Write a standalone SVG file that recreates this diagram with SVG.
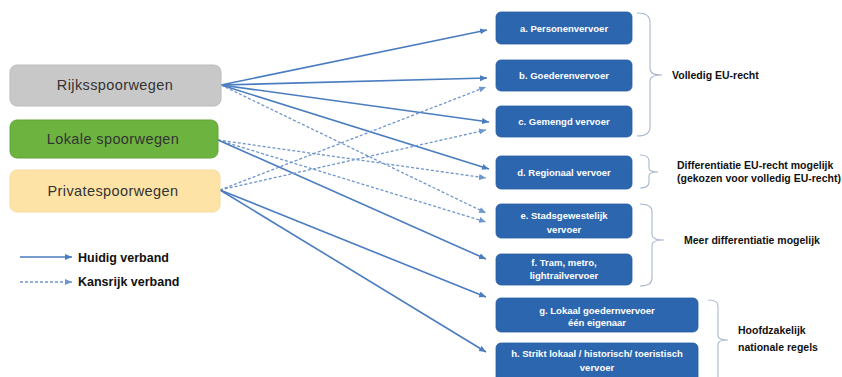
<svg xmlns="http://www.w3.org/2000/svg" width="842" height="377" viewBox="0 0 842 377">
<style>
.src{font-family:"Liberation Sans",Arial,sans-serif;font-size:14.5px;fill:#333;text-anchor:middle;letter-spacing:0.4px}
.box{fill:#2c66ae;stroke:#2a5d9f;stroke-width:0.8}
.bt{font-family:"Liberation Sans",Arial,sans-serif;font-size:9.5px;font-weight:bold;fill:#fff;text-anchor:middle}
.lbl{font-family:"Liberation Sans",Arial,sans-serif;font-size:10.5px;font-weight:bold;fill:#111}
.leg{font-family:"Liberation Sans",Arial,sans-serif;font-size:12.5px;font-weight:bold;fill:#111}
.br{fill:none;stroke:#a9b7cc;stroke-width:1.1}
.sol{fill:none;stroke:#4a7cc0;stroke-width:1.6;marker-end:url(#ah)}
.dsh{fill:none;stroke:#6f96cc;stroke-width:1.3;stroke-dasharray:3 2;marker-end:url(#ahd)}
</style>
<defs>
<marker id="ah" markerUnits="userSpaceOnUse" markerWidth="8" markerHeight="8" refX="7" refY="4" orient="auto"><path d="M0,1 L7,4 L0,7 Z" fill="#4a7cc0"/></marker>
<marker id="ahd" markerUnits="userSpaceOnUse" markerWidth="8" markerHeight="8" refX="7" refY="4" orient="auto"><path d="M0,1 L7,4 L0,7 Z" fill="#6f96cc"/></marker>
</defs>
<rect width="842" height="377" fill="#fff"/>

<g id="connectors">
<line class="sol" x1="221" y1="85" x2="487" y2="30"/>
<line class="sol" x1="221" y1="85" x2="487" y2="78"/>
<line class="sol" x1="221" y1="85" x2="489" y2="122"/>
<line class="sol" x1="221" y1="85" x2="489" y2="169"/>
<line class="dsh" x1="221" y1="85" x2="486" y2="213"/>
<line class="dsh" x1="218" y1="140" x2="486" y2="178"/>
<line class="dsh" x1="218" y1="140" x2="486" y2="222"/>
<line class="sol" x1="218" y1="140" x2="486" y2="259"/>
<line class="dsh" x1="220" y1="190" x2="486" y2="87"/>
<line class="dsh" x1="220" y1="190" x2="486" y2="130"/>
<line class="sol" x1="220" y1="190" x2="486" y2="297"/>
<line class="sol" x1="220" y1="190" x2="486" y2="352"/>
</g>

<g id="rijks"><rect x="10" y="65" width="211" height="41" rx="7" fill="#c9c8c8" stroke="#bdbcbc"/><text class="src" x="115" y="90">Rijksspoorwegen</text></g>
<g id="lokale"><rect x="10" y="120" width="208" height="38" rx="7" fill="#6db33f" stroke="#63a637"/><text class="src" x="113" y="144">Lokale spoorwegen</text></g>
<g id="private"><rect x="10" y="170" width="210" height="42" rx="7" fill="#fde3a6" stroke="#f6dca0"/><text class="src" x="113" y="196">Privatespoorwegen</text></g>

<g id="a"><rect class="box" x="496" y="12" width="136" height="32" rx="5"/><text class="bt" x="564" y="31.5">a. Personenvervoer</text></g>
<g id="b"><rect class="box" x="496" y="60" width="136" height="31" rx="5"/><text class="bt" x="564" y="79">b. Goederenvervoer</text></g>
<g id="c"><rect class="box" x="496" y="106" width="136" height="31" rx="5"/><text class="bt" x="564" y="125">c. Gemengd vervoer</text></g>
<g id="d"><rect class="box" x="496" y="156" width="136" height="33" rx="5"/><text class="bt" x="564" y="176">d. Regionaal vervoer</text></g>
<g id="e"><rect class="box" x="496" y="204" width="136" height="34" rx="5"/><text class="bt" x="564" y="218.5">e. Stadsgewestelijk</text><text class="bt" x="564" y="232.5">vervoer</text></g>
<g id="f"><rect class="box" x="496" y="254" width="136" height="31" rx="5"/><text class="bt" x="564" y="265.5">f. Tram, metro,</text><text class="bt" x="564" y="278.5">lightrailvervoer</text></g>
<g id="g"><rect class="box" x="496" y="298" width="202" height="34" rx="5"/><text class="bt" x="597" y="313.5">g. Lokaal goedernvervoer</text><text class="bt" x="597" y="325.5">één eigenaar</text></g>
<g id="h"><rect class="box" x="496" y="343" width="202" height="42" rx="5"/><text class="bt" x="597" y="356.5">h. Strikt lokaal / historisch/ toeristisch</text><text class="bt" x="597" y="371">vervoer</text></g>

<g id="bracket1"><path class="br" d="M637,13 Q650,13 650,22 L650,69 Q650,75 662,75 Q650,75 650,81 L650,127 Q650,136 637,136"/><text class="lbl" x="672" y="79">Volledig EU-recht</text></g>
<g id="bracket2"><path class="br" d="M640,155 Q649,155 649,161 L649,168 Q649,172 658,172 Q649,172 649,176 L649,182 Q649,188 640,188"/><text class="lbl" x="677" y="168.5">Differentiatie EU-recht mogelijk</text><text class="lbl" x="677" y="182">(gekozen voor volledig EU-recht)</text></g>
<g id="bracket3"><path class="br" d="M640,204 Q652,204 652,212 L652,235 Q652,240 664,240 Q652,240 652,245 L652,278 Q652,286 640,286"/><text class="lbl" x="684" y="244">Meer differentiatie mogelijk</text></g>
<g id="bracket4"><path class="br" d="M708,300 Q718,300 718,306 L718,336 Q718,340 728,340 Q718,340 718,344 L718,380"/><text class="lbl" x="738" y="334">Hoofdzakelijk</text><text class="lbl" x="738" y="351">nationale regels</text></g>

<g id="legend">
<line class="sol" x1="20" y1="257" x2="72" y2="257"/><text class="leg" x="78" y="262">Huidig verband</text>
<line class="dsh" x1="20" y1="282" x2="72" y2="282"/><text class="leg" x="78" y="286">Kansrijk verband</text>
</g>
</svg>
